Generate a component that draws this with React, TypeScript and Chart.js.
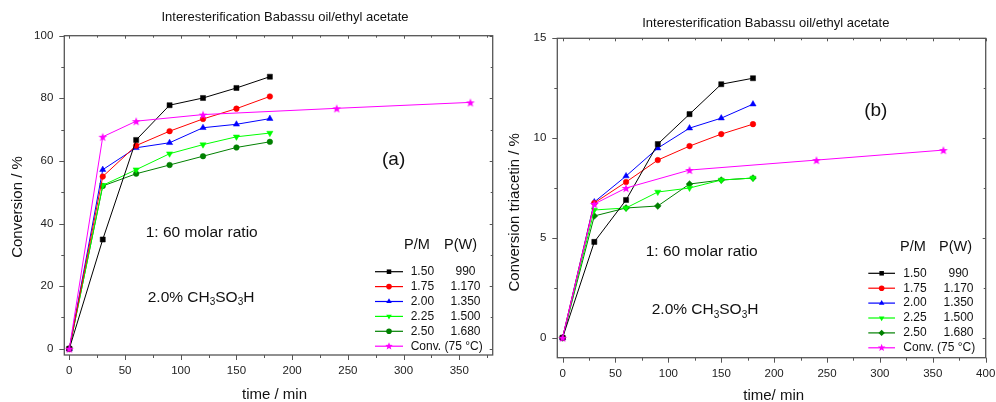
import React, { useEffect, useRef } from 'react';
import { Chart, registerables } from 'chart.js';
Chart.register(...registerables);

const FONT = "'Liberation Sans', Arial, Helvetica, sans-serif";

// ---------- data ----------
const timeRuns = [0, 30, 60, 90, 120, 150, 180];
const timeConv = [0, 30, 60, 120, 240, 360];
const pmLabels = ['1.50', '1.75', '2.00', '2.25', '2.50'];
const pwLabels = ['990', '1.170', '1.350', '1.500', '1.680'];
const convLabel = 'Conv. (75 °C)';

// (a) Conversion / %
const convA150 = [0, 34.9, 66.7, 77.8, 80.1, 83.3, 86.9];
const convA175 = [0, 55.0, 64.9, 69.5, 73.4, 76.7, 80.6];
const convA200 = [0, 57.2, 64.2, 65.8, 70.6, 71.7, 73.5];
const convA225 = [0, 52.2, 57.2, 62.3, 65.2, 67.7, 68.9];
const convA250 = [0, 52.0, 55.9, 58.7, 61.5, 64.3, 66.1];
const convAConv = [0, 67.7, 72.7, 74.8, 76.8, 78.7];

// (b) Conversion triacetin / %
const triB150 = [0, 4.8, 6.9, 9.7, 11.2, 12.7, 13.0];
const triB175 = [0, 6.75, 7.8, 8.9, 9.6, 10.2, 10.7];
const triB200 = [0, 6.8, 8.1, 9.5, 10.5, 11.0, 11.7];
const triB225 = [0, 6.4, 6.5, 7.3, 7.5, 7.9, 8.0];
const triB250 = [0, 6.1, 6.5, 6.6, 7.7, 7.9, 8.0];
const triBConv = [0, 6.7, 7.5, 8.4, 8.9, 9.4];

const xTicksA = [0, 50, 100, 150, 200, 250, 300, 350];
const yTicksA = [0, 20, 40, 60, 80, 100];
const xTicksB = [0, 50, 100, 150, 200, 250, 300, 350, 400];
const yTicksB = [0, 5, 10, 15];

const seriesColors = ['#000000', '#ff0000', '#0000ff', '#00ff00', '#008000'];
const convColor = '#ff00ff';

const titleText = 'Interesterification Babassu oil/ethyl acetate';

// ---------- helpers ----------
function starPath(ctx: CanvasRenderingContext2D, cx: number, cy: number, R: number) {
  const r = R * 0.42;
  ctx.beginPath();
  for (let i = 0; i < 10; i++) {
    const a = -Math.PI / 2 + (i * Math.PI) / 5;
    const rr = i % 2 === 0 ? R : r;
    ctx.lineTo(cx + rr * Math.cos(a), cy + rr * Math.sin(a));
  }
  ctx.closePath();
}

function makeStar(R: number, color: string) {
  const c = document.createElement('canvas');
  const s = Math.ceil(R * 2 + 2);
  c.width = s;
  c.height = s;
  const ctx = c.getContext('2d')!;
  starPath(ctx, s / 2, s / 2 + 0.5, R);
  ctx.fillStyle = color;
  ctx.fill();
  return c;
}

function drawMarker(ctx: CanvasRenderingContext2D, style: string, x: number, y: number, r: number, color: string) {
  ctx.save();
  ctx.fillStyle = color;
  ctx.beginPath();
  if (style === 'rect') {
    const s = r * Math.SQRT1_2;
    ctx.rect(x - s, y - s, 2 * s, 2 * s);
  } else if (style === 'circle') {
    ctx.arc(x, y, r, 0, Math.PI * 2);
  } else if (style === 'triangle' || style === 'triangleDown') {
    const d = style === 'triangle' ? 1 : -1;
    ctx.moveTo(x, y - d * r);
    ctx.lineTo(x + r * 0.866, y + d * r * 0.5);
    ctx.lineTo(x - r * 0.866, y + d * r * 0.5);
    ctx.closePath();
  } else if (style === 'rectRot') {
    ctx.moveTo(x, y - r);
    ctx.lineTo(x + r, y);
    ctx.lineTo(x, y + r);
    ctx.lineTo(x - r, y);
    ctx.closePath();
  } else if (style === 'star') {
    starPath(ctx, x, y, r);
  }
  ctx.fill();
  ctx.restore();
}

type Marker = { style: string; r: number };

type PanelCfg = {
  width: number;
  padTop: number;
  padRight: number;
  yWidth: number;
  xHeight: number;
  xMin: number;
  xMax: number;
  yMin: number;
  yMax: number;
  xTicks: number[];
  yTicks: number[];
  series: number[][];
  conv: number[];
  markers: Marker[];
  title: [number, number];
  yTitle: string;
  yTitlePos: [number, number];
  xTitle: string;
  xTitlePos: [number, number];
  tag: string;
  tagPos: [number, number];
  ratioPos: [number, number];
  acidPos: [number, number];
  legend: { headX1: number; headX2: number; headY: number; lineX1: number; lineX2: number; textX: number; valX: number; rowY: number; step: number };
};

function buildChart(canvas: HTMLCanvasElement, cfg: PanelCfg) {
  const star = makeStar(4.6, convColor);
  const datasets: any[] = cfg.series.map((vals, i) => ({
    label: pmLabels[i] + ' ' + pwLabels[i],
    data: vals.map((v, j) => ({ x: timeRuns[j], y: v })),
    borderColor: seriesColors[i],
    backgroundColor: seriesColors[i],
    pointBackgroundColor: seriesColors[i],
    pointBorderColor: seriesColors[i],
    pointStyle: cfg.markers[i].style === 'triangleDown' ? 'triangle' : cfg.markers[i].style,
    pointRotation: cfg.markers[i].style === 'triangleDown' ? 180 : 0,
    pointRadius: cfg.markers[i].r,
    pointBorderWidth: 0.5,
    borderWidth: 1,
    tension: 0,
    order: 1,
  }));
  datasets.push({
    label: convLabel,
    data: cfg.conv.map((v, j) => ({ x: timeConv[j], y: v })),
    borderColor: convColor,
    backgroundColor: convColor,
    pointStyle: star,
    pointRadius: 4.6,
    borderWidth: 1,
    tension: 0,
    order: 0,
  });

  const minorOf = (ticks: number[], lo: number, hi: number) => {
    const step = ticks[1] - ticks[0];
    const out: number[] = [];
    ticks.forEach((t) => {
      [t - step / 2, t + step / 2].forEach((m) => {
        if (m >= lo && m <= hi && !out.includes(m)) out.push(m);
      });
    });
    return out;
  };

  const decor = {
    id: 'decor',
    afterDraw(chart: any) {
      const { ctx, chartArea: a } = chart;
      const xs = chart.scales.x;
      const ys = chart.scales.y;
      ctx.save();
      // frame
      ctx.strokeStyle = '#555555';
      ctx.lineWidth = 1.3;
      ctx.strokeRect(a.left, a.top, a.right - a.left, a.bottom - a.top);
      ctx.lineWidth = 1;
      const seg = (x1: number, y1: number, x2: number, y2: number) => {
        ctx.beginPath();
        ctx.moveTo(x1, y1);
        ctx.lineTo(x2, y2);
        ctx.stroke();
      };
      const xMin = minorOf(cfg.xTicks, cfg.xMin, cfg.xMax);
      const yMin = minorOf(cfg.yTicks, cfg.yMin, cfg.yMax);
      cfg.xTicks.forEach((v) => {
        const p = Math.round(xs.getPixelForValue(v)) + 0.5;
        seg(p, a.bottom, p, a.bottom + 5);
        seg(p, a.top, p, a.top + 3);
      });
      xMin.forEach((v) => {
        const p = Math.round(xs.getPixelForValue(v)) + 0.5;
        seg(p, a.bottom, p, a.bottom + 3);
        seg(p, a.top, p, a.top + 2);
      });
      cfg.yTicks.forEach((v) => {
        const p = Math.round(ys.getPixelForValue(v)) + 0.5;
        seg(a.left - 5, p, a.left, p);
        seg(a.right - 3, p, a.right, p);
      });
      yMin.forEach((v) => {
        const p = Math.round(ys.getPixelForValue(v)) + 0.5;
        seg(a.left - 3, p, a.left, p);
        seg(a.right - 2, p, a.right, p);
      });

      ctx.fillStyle = '#111111';
      ctx.textBaseline = 'middle';
      // title
      ctx.font = '13px ' + FONT;
      ctx.textAlign = 'center';
      ctx.fillText(titleText, cfg.title[0], cfg.title[1]);
      // x title
      ctx.font = '15px ' + FONT;
      ctx.fillText(cfg.xTitle, cfg.xTitlePos[0], cfg.xTitlePos[1]);
      // y title
      ctx.save();
      ctx.translate(cfg.yTitlePos[0], cfg.yTitlePos[1]);
      ctx.rotate(-Math.PI / 2);
      ctx.fillText(cfg.yTitle, 0, 0);
      ctx.restore();
      // tag
      ctx.font = '19px ' + FONT;
      ctx.fillText(cfg.tag, cfg.tagPos[0], cfg.tagPos[1]);
      // annotations
      ctx.textAlign = 'left';
      ctx.font = '15.5px ' + FONT;
      ctx.fillText('1: 60 molar ratio', cfg.ratioPos[0], cfg.ratioPos[1]);
      // 2.0% CH3SO3H with subscripts
      const parts: [string, boolean][] = [['2.0% CH', false], ['3', true], ['SO', false], ['3', true], ['H', false]];
      let tx = cfg.acidPos[0];
      parts.forEach(([t, sub]) => {
        ctx.font = (sub ? '10px ' : '15.5px ') + FONT;
        ctx.fillText(t, tx, cfg.acidPos[1] + (sub ? 5 : 0));
        tx += ctx.measureText(t).width;
      });
      // legend
      const L = cfg.legend;
      ctx.font = '14.5px ' + FONT;
      ctx.fillText('P/M', L.headX1, L.headY);
      ctx.fillText('P(W)', L.headX2, L.headY);
      ctx.font = '12px ' + FONT;
      const rows = pmLabels.length + 1;
      for (let i = 0; i < rows; i++) {
        const y = L.rowY + i * L.step;
        const col = i < pmLabels.length ? seriesColors[i] : convColor;
        ctx.strokeStyle = col;
        ctx.lineWidth = 1.2;
        seg(L.lineX1, y, L.lineX2, y);
        const mk = i < pmLabels.length ? cfg.markers[i] : { style: 'star', r: 4 };
        drawMarker(ctx, mk.style, (L.lineX1 + L.lineX2) / 2, y, mk.style === 'star' ? 4 : Math.min(mk.r, 3.2), col);
        ctx.fillStyle = '#111111';
        ctx.textAlign = 'left';
        if (i < pmLabels.length) {
          ctx.fillText(pmLabels[i], L.textX, y);
          ctx.textAlign = 'center';
          ctx.fillText(pwLabels[i], L.valX, y);
        } else {
          ctx.fillText(convLabel, L.textX, y);
        }
      }
      ctx.restore();
    },
  };

  const tickFont = { family: FONT, size: 11.5 };
  return new Chart(canvas, {
    type: 'line',
    data: { datasets },
    options: {
      responsive: false,
      animation: false,
      devicePixelRatio: 1,
      events: [],
      layout: { padding: { left: 0, right: cfg.padRight, top: cfg.padTop, bottom: 0 } },
      plugins: { legend: { display: false }, title: { display: false }, tooltip: { enabled: false } },
      scales: {
        x: {
          type: 'linear',
          min: cfg.xMin,
          max: cfg.xMax,
          afterBuildTicks: (s: any) => {
            s.ticks = cfg.xTicks.map((v) => ({ value: v }));
          },
          afterFit: (s: any) => {
            s.height = cfg.xHeight;
            s.paddingLeft = 0;
            s.paddingRight = 0;
            s.paddingTop = 0;
            s.paddingBottom = 0;
          },
          grid: { display: true, drawOnChartArea: false, color: 'rgba(0,0,0,0)', tickLength: 5 },
          border: { display: false },
          ticks: { font: tickFont, color: '#222222', padding: 4, maxRotation: 0, autoSkip: false },
        },
        y: {
          type: 'linear',
          min: cfg.yMin,
          max: cfg.yMax,
          afterBuildTicks: (s: any) => {
            s.ticks = cfg.yTicks.map((v) => ({ value: v }));
          },
          afterFit: (s: any) => {
            s.width = cfg.yWidth;
            s.paddingLeft = 0;
            s.paddingRight = 0;
            s.paddingTop = 0;
            s.paddingBottom = 0;
          },
          grid: { display: true, drawOnChartArea: false, color: 'rgba(0,0,0,0)', tickLength: 5 },
          border: { display: false },
          ticks: { font: tickFont, color: '#222222', padding: 6, autoSkip: false },
        },
      },
    } as any,
    plugins: [decor],
  });
}

const panelA: PanelCfg = {
  width: 500,
  padTop: 35.7,
  padRight: 7.3,
  yWidth: 64.3,
  xHeight: 47,
  xMin: -4.5,
  xMax: 380,
  yMin: -2,
  yMax: 100,
  xTicks: xTicksA,
  yTicks: yTicksA,
  series: [convA150, convA175, convA200, convA225, convA250],
  conv: convAConv,
  markers: [
    { style: 'rect', r: 3.6 },
    { style: 'circle', r: 2.8 },
    { style: 'triangle', r: 3.6 },
    { style: 'triangleDown', r: 3.6 },
    { style: 'circle', r: 2.8 },
  ],
  title: [285, 17.5],
  yTitle: 'Conversion / %',
  yTitlePos: [17.7, 207],
  xTitle: 'time / min',
  xTitlePos: [274.5, 395],
  tag: '(a)',
  tagPos: [393.6, 159.3],
  ratioPos: [145.7, 232.7],
  acidPos: [147.7, 297.3],
  legend: { headX1: 404, headX2: 444, headY: 245, lineX1: 375, lineX2: 403, textX: 410.7, valX: 465.5, rowY: 271.7, step: 14.9 },
};

const panelB: PanelCfg = {
  width: 496,
  padTop: 38.3,
  padRight: 10.3,
  yWidth: 57.3,
  xHeight: 44.3,
  xMin: -5,
  xMax: 400,
  yMin: -1,
  yMax: 15,
  xTicks: xTicksB,
  yTicks: yTicksB,
  series: [triB150, triB175, triB200, triB225, triB250],
  conv: triBConv,
  markers: [
    { style: 'rect', r: 3.6 },
    { style: 'circle', r: 2.8 },
    { style: 'triangle', r: 3.6 },
    { style: 'triangleDown', r: 3.6 },
    { style: 'rectRot', r: 3.4 },
  ],
  title: [265.8, 23],
  yTitle: 'Conversion triacetin / %',
  yTitlePos: [15, 212.3],
  xTitle: 'time/ min',
  xTitlePos: [273.7, 396],
  tag: '(b)',
  tagPos: [375.8, 110.7],
  ratioPos: [145.7, 251.7],
  acidPos: [151.7, 310],
  legend: { headX1: 400, headX2: 439, headY: 246.7, lineX1: 368.3, lineX2: 395, textX: 403.3, valX: 458.5, rowY: 273.3, step: 14.9 },
};

function Panel({ cfg, left }: { cfg: PanelCfg; left: number }) {
  const ref = useRef<HTMLCanvasElement>(null);
  useEffect(() => {
    if (!ref.current) return;
    const chart = buildChart(ref.current, cfg);
    return () => chart.destroy();
  }, [cfg]);
  return (
    <canvas
      ref={ref}
      width={cfg.width}
      height={402}
      style={{ position: 'absolute', left, top: 0, width: cfg.width, height: 402 }}
    />
  );
}

export default function App() {
  return (
    <div style={{ position: 'fixed', left: 0, top: 0, width: 996, height: 402, background: '#ffffff', overflow: 'hidden' }}>
      <Panel cfg={panelA} left={0} />
      <Panel cfg={panelB} left={500} />
    </div>
  );
}
